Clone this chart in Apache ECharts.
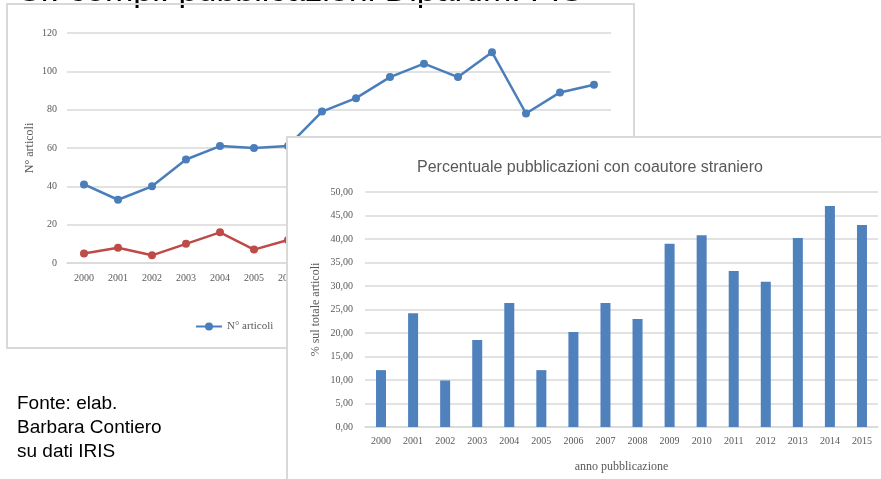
<!DOCTYPE html>
<html>
<head>
<meta charset="utf-8">
<script src="https://cdn.jsdelivr.net/npm/echarts@6/dist/echarts.min.js"></script>
<style>
  html, body { margin: 0; padding: 0; background: #fff; }
  #main { width: 881px; height: 479px; }
</style>
</head>
<body>
<div id="main"></div>
<script>
'use strict';

var anni = ['2000', '2001', '2002', '2003', '2004', '2005', '2006', '2007',
  '2008', '2009', '2010', '2011', '2012', '2013', '2014', '2015'];

// grafico 1: numero articoli (la parte destra e' coperta dal secondo grafico)
var nArticoli = [41, 33, 40, 54, 61, 60, 61, 79, 86, 97, 104, 97, 110, 78, 89, 93];
var nCoautore = [5, 8, 4, 10, 16, 7, 12, null, null, null, null, null, null, null, null, null];

// grafico 2: percentuale con coautore straniero
var percentuale = [12.1, 24.2, 9.9, 18.5, 26.4, 12.1, 20.2, 26.4, 23.0, 39.0, 40.8, 33.2, 30.9, 40.2, 47.0, 43.0];

var grigio = '#595959';
var serif = '"Liberation Serif", "DejaVu Serif", serif';
var sans = '"Liberation Sans", Arial, sans-serif';

var myChart = echarts.init(document.getElementById('main'));

var option = {
  backgroundColor: '#fff',
  animation: false,
  title: {
    text: 'Percentuale pubblicazioni con coautore straniero',
    left: 585,
    textAlign: 'center',
    top: 155,
    textStyle: { fontFamily: sans, fontSize: 16, fontWeight: 'normal', color: grigio },
    z: 8
  },
  legend: {
    left: 190,
    top: 316,
    itemWidth: 26,
    itemHeight: 10,
    itemGap: 40,
    data: ['N° articoli', 'N° articoli con coautore straniero'],
    textStyle: { fontFamily: serif, fontSize: 11, color: grigio }
  },
  graphic: [
    {
      type: 'text',
      left: 18,
      top: -25,
      style: {
        text: 'Sr. compl. pubblicazioni Dipartim. FIS',
        font: '34px "Liberation Sans", Arial, sans-serif',
        fill: '#000'
      },
      z: 1
    },
    {
      type: 'rect',
      shape: { x: 7, y: 4, width: 627, height: 344 },
      style: { fill: 'none', stroke: '#d9d9d9', lineWidth: 2 },
      z: 1
    },
    {
      type: 'rect',
      shape: { x: 287, y: 137, width: 620, height: 360 },
      style: { fill: '#fff', stroke: '#d9d9d9', lineWidth: 2 },
      z: 5
    },
    {
      type: 'text',
      left: 17,
      top: 392,
      style: {
        text: 'Fonte: elab.\nBarbara Contiero\nsu dati IRIS',
        font: '19px "Liberation Sans", Arial, sans-serif',
        lineHeight: 24,
        fill: '#000'
      },
      z: 1
    }
  ],
  grid: [
    { left: 67, top: 33, width: 544, height: 230 },
    { left: 365, top: 192, width: 513, height: 235 }
  ],
  xAxis: [
    {
      type: 'category',
      gridIndex: 0,
      data: anni,
      name: 'anno pubblicazione',
      nameLocation: 'middle',
      nameGap: 34,
      nameTextStyle: { fontFamily: serif, fontSize: 11, color: grigio },
      axisLine: { lineStyle: { color: '#d9d9d9', width: 1.5 } },
      axisTick: { show: false },
      axisLabel: { margin: 10, fontFamily: serif, fontSize: 10, color: grigio }
    },
    {
      type: 'category',
      gridIndex: 1,
      data: anni,
      name: 'anno pubblicazione',
      nameLocation: 'middle',
      nameGap: 34,
      nameTextStyle: { fontFamily: serif, fontSize: 12, color: grigio },
      axisLine: { lineStyle: { color: '#d9d9d9', width: 1.5 } },
      axisTick: { show: false },
      axisLabel: { margin: 9, fontFamily: serif, fontSize: 10, color: grigio },
      z: 6
    }
  ],
  yAxis: [
    {
      type: 'value',
      gridIndex: 0,
      min: 0,
      max: 120,
      interval: 20,
      name: 'N° articoli',
      nameLocation: 'middle',
      nameGap: 31,
      nameMoveOverlap: false,
      nameTextStyle: { fontFamily: serif, fontSize: 12, color: grigio },
      axisLine: { show: false },
      axisTick: { show: false },
      axisLabel: { margin: 10, fontFamily: serif, fontSize: 10, color: grigio },
      splitLine: { lineStyle: { color: '#d9d9d9', width: 1.5 } }
    },
    {
      type: 'value',
      gridIndex: 1,
      min: 0,
      max: 50,
      interval: 5,
      name: '% sul totale articoli',
      nameLocation: 'middle',
      nameGap: 43,
      nameMoveOverlap: false,
      nameTextStyle: { fontFamily: serif, fontSize: 12, color: grigio },
      axisLine: { show: false },
      axisTick: { show: false },
      axisLabel: {
        margin: 12,
        fontFamily: serif,
        fontSize: 10,
        color: grigio,
        formatter: function(v) { return v.toFixed(2).replace('.', ','); }
      },
      splitLine: { lineStyle: { color: '#d9d9d9', width: 1.5 } },
      z: 6
    }
  ],
  series: [
    {
      name: 'N° articoli',
      type: 'line',
      xAxisIndex: 0,
      yAxisIndex: 0,
      data: nArticoli,
      symbol: 'circle',
      symbolSize: 8,
      lineStyle: { color: '#4a7ebb', width: 2.5 },
      itemStyle: { color: '#4a7ebb' },
      z: 3
    },
    {
      name: 'N° articoli con coautore straniero',
      type: 'line',
      xAxisIndex: 0,
      yAxisIndex: 0,
      data: nCoautore,
      symbol: 'circle',
      symbolSize: 8,
      lineStyle: { color: '#be4b48', width: 2.5 },
      itemStyle: { color: '#be4b48' },
      z: 3
    },
    {
      name: 'percentuale',
      type: 'bar',
      xAxisIndex: 1,
      yAxisIndex: 1,
      data: percentuale,
      barWidth: 10,
      itemStyle: { color: '#4f81bd' },
      z: 7
    }
  ]
};

myChart.setOption(option);
</script>
</body>
</html>
